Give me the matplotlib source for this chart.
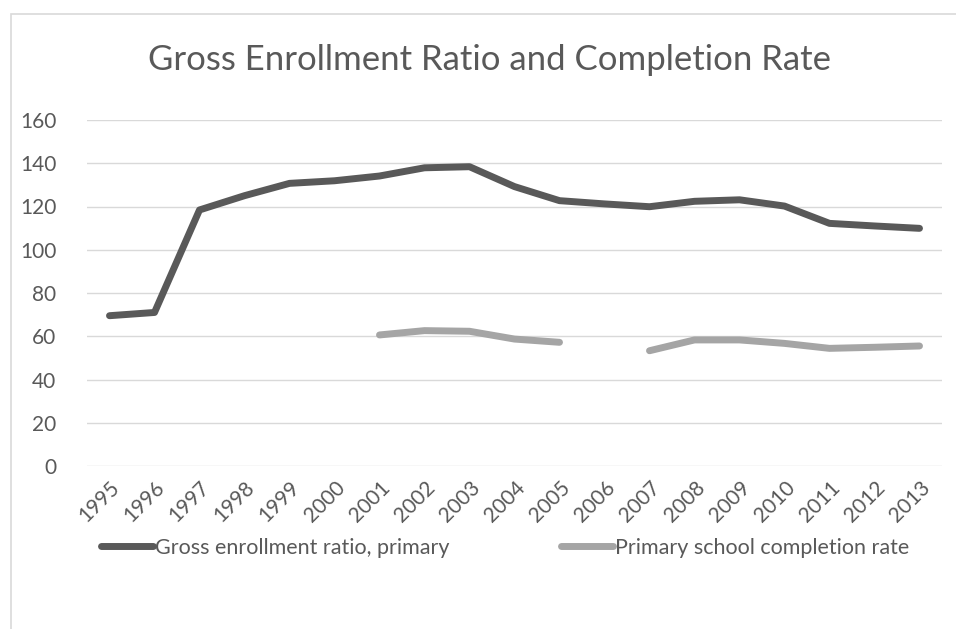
import matplotlib.pyplot as plt
import numpy as np
from matplotlib.patches import Rectangle

years = ['1995', '1996', '1997', '1998', '1999', '2000', '2001', '2002', '2003', '2004',
         '2005', '2006', '2007', '2008', '2009', '2010', '2011', '2012', '2013']
enrollment = [69.5, 71.0, 118.4, 125.0, 130.7, 131.9, 134.1, 137.9, 138.4, 129.2,
              122.7, 121.2, 119.9, 122.4, 123.1, 120.2, 112.2, 111.0, 109.9]
completion = [np.nan, np.nan, np.nan, np.nan, np.nan, np.nan, 60.6, 62.6, 62.3, 58.7,
              57.2, np.nan, 53.3, 58.3, 58.3, 56.7, 54.4, 54.9, 55.5]

text_col = '#595959'
plt.rcParams['font.family'] = ['Lato', 'DejaVu Sans']

fig = plt.figure(figsize=(9.56, 6.29), dpi=100)
W, H = 956, 629

# chart frame (runs off the right and bottom edges)
fig.patches.append(Rectangle((11 / W, -0.1), 1.2, 1 - 14 / H + 0.1, transform=fig.transFigure,
                             fill=False, edgecolor='#d9d9d9', linewidth=1.2))

ax = fig.add_axes([87 / W, 1 - 466 / H, (942 - 87) / W, (466 - 120) / H])
x = np.arange(len(years))
ax.plot(x, enrollment, color='#595959', linewidth=5, solid_capstyle='round',
        solid_joinstyle='round', label='Gross enrollment ratio, primary')
ax.plot(x, completion, color='#a5a5a5', linewidth=5, solid_capstyle='round',
        solid_joinstyle='round', label='Primary school completion rate')

ax.set_xlim(-0.5, len(years) - 0.5)
ax.set_ylim(0, 160)
ax.set_yticks(range(0, 161, 20))
ax.grid(axis='y', color='#d9d9d9', linewidth=1)
ax.set_axisbelow(True)
for s in ax.spines.values():
    s.set_visible(False)
ax.set_xticks(x)
ax.set_xticklabels(years, rotation=45, ha='right', rotation_mode='anchor')
ax.tick_params(axis='both', length=0, labelsize=15, colors=text_col)
ax.tick_params(axis='x', pad=8)
ax.tick_params(axis='y', pad=22)

fig.text(490 / W, 1 - 60 / H, 'Gross Enrollment Ratio and Completion Rate',
         ha='center', va='center', fontsize=25, color=text_col)

leg = fig.legend(loc='center', bbox_to_anchor=(505 / W, 1 - 548 / H), ncol=2, frameon=False,
                 fontsize=15.5, handlelength=2.4, handletextpad=0.1, columnspacing=5.2,
                 labelcolor=text_col)

fig.savefig('out.png', dpi=100, facecolor='white')
